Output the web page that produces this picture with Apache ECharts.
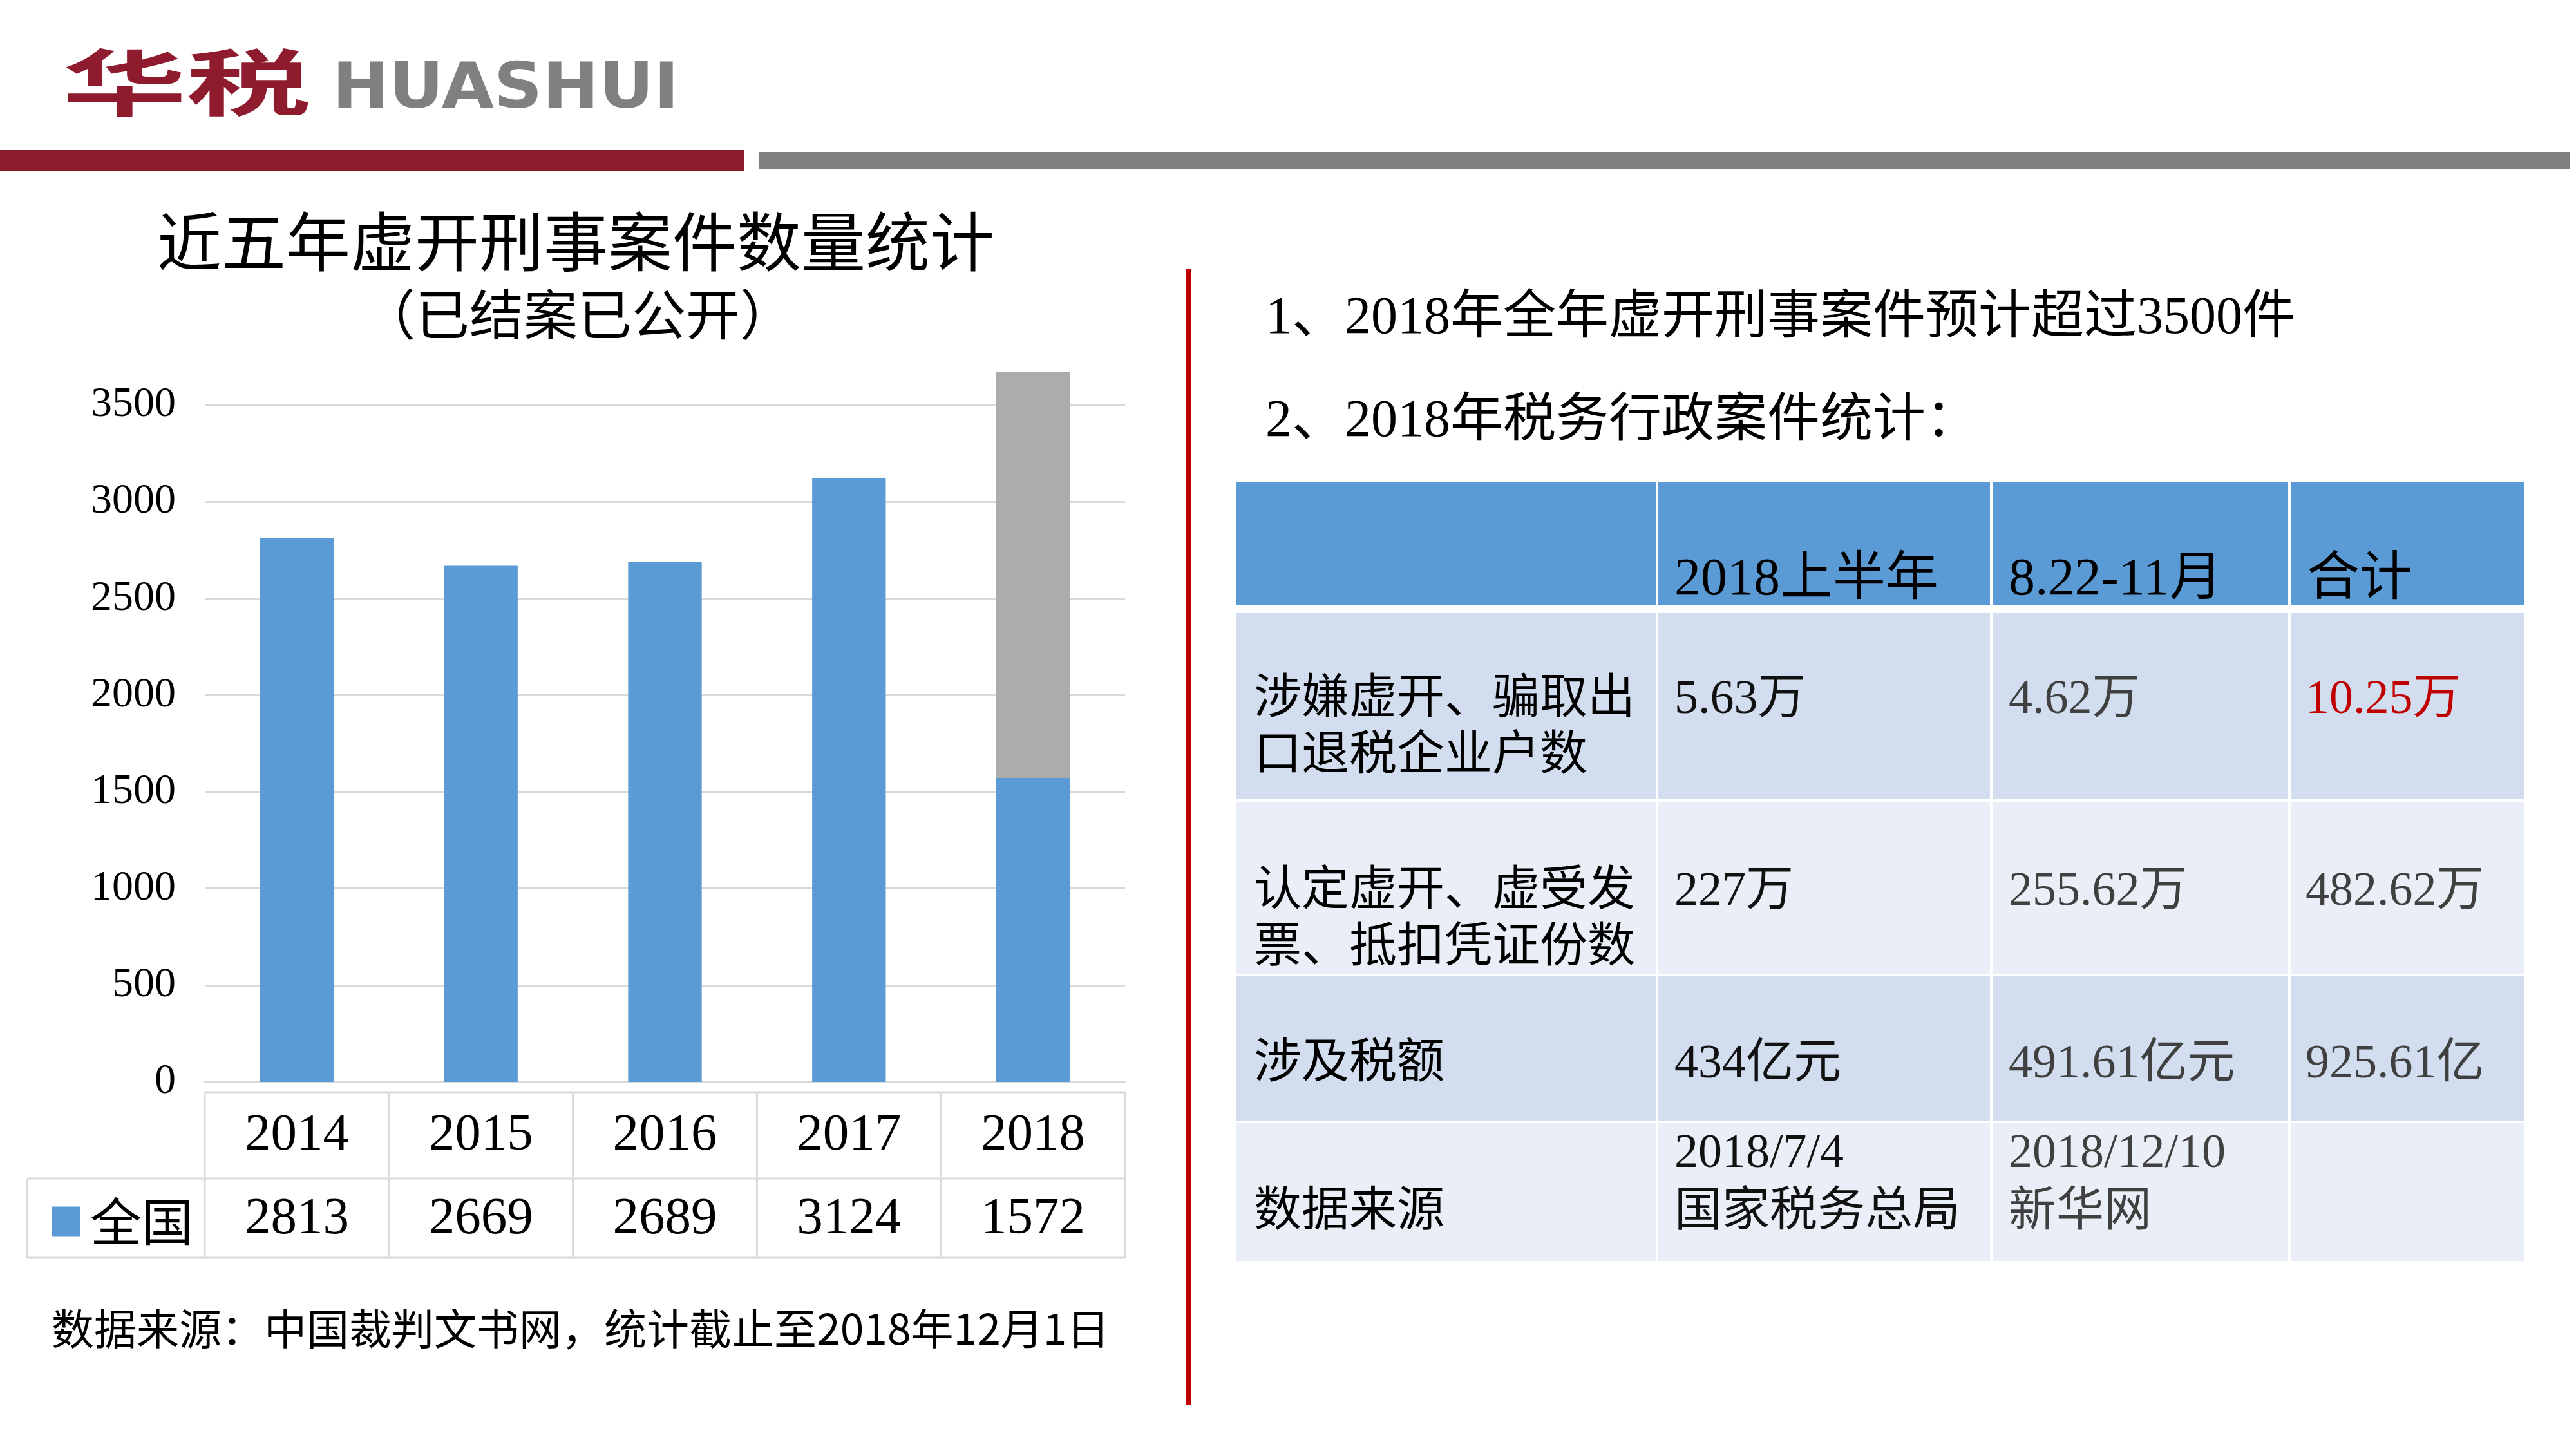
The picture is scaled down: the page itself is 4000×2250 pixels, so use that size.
<!DOCTYPE html>
<html>
<head>
<meta charset="utf-8">
<script src="https://cdn.jsdelivr.net/npm/echarts@6/dist/echarts.min.js"></script>
<style>
html,body{margin:0;padding:0;background:#fff;}
#c{width:4000px;height:2250px;}
</style>
</head>
<body>
<div id="c"></div>
<script>
// ---------- data ----------
const years = ['2014', '2015', '2016', '2017', '2018'];
const nationwide = [2813, 2669, 2689, 3124, 1572];
const projectedExtra = [null, null, null, null, 2100]; // grey part of 2018 (estimated)
const seriesName = '全国';
const yTicks = { min: 0, max: 3500, step: 500 };

const chartTitle = '近五年虚开刑事案件数量统计';
const chartSubtitle = '（已结案已公开）';
const footerNote = '数据来源：中国裁判文书网，统计截止至2018年12月1日';
const noteLines = ['1、2018年全年虚开刑事案件预计超过3500件', '2、2018年税务行政案件统计：'];

const tblHeader = ['', '2018上半年', '8.22-11月', '合计'];
const tblRowLabels = ['涉嫌虚开、骗取出\n口退税企业户数', '认定虚开、虚受发\n票、抵扣凭证份数', '涉及税额', '数据来源'];
const tblFirstHalf = ['5.63万', '227万', '434亿元', '2018/7/4\n国家税务总局'];
const tblAugNov = ['4.62万', '255.62万', '491.61亿元', '2018/12/10\n新华网'];
const tblTotal = ['10.25万', '482.62万', '925.61亿', ''];

// ---------- style ----------
const FONT = "'Liberation Serif','Noto Sans CJK SC',serif";
const SANS = "'Noto Sans CJK SC','Noto Sans',sans-serif";
const BLUE = '#5B9BD5';
const GREY = '#AEABAB';
const GRID = '#D9D9D9';
const DY = 6; // vertical nudge for text rendering

const chart = echarts.init(document.getElementById('c'), null, { renderer: 'canvas', width: 4000, height: 2250 });

function txt(text, x, y, size, opts) {
  opts = opts || {};
  return {
    type: 'text', x: x, y: y + (opts.noNudge ? 0 : DY), z: 10,
    scaleX: opts.scaleX || 1,
    style: {
      text: text,
      fontSize: size,
      fontFamily: opts.family || FONT,
      fontWeight: opts.weight || 'normal',
      fill: opts.color || '#000',
      textAlign: opts.align || 'left', align: opts.align || 'left',
      textVerticalAlign: 'middle', verticalAlign: 'middle',
      lineHeight: opts.lineHeight || size
    }
  };
}
function rect(x, y, w, h, color, z) {
  return { type: 'rect', z: z || 1, shape: { x: x, y: y, width: w, height: h }, style: { fill: color } };
}
function line(x1, y1, x2, y2, color, w) {
  return { type: 'line', z: 2, shape: { x1: x1, y1: y1, x2: x2, y2: y2 }, style: { stroke: color, lineWidth: w } };
}

const option = {
  backgroundColor: '#fff',
  animation: false,
  grid: { left: 318, right: 4000 - 1747, top: 629, bottom: 2250 - 1680, containLabel: false },
  legend: {
    data: [seriesName], left: 75, top: 1852, icon: 'rect', itemWidth: 45, itemHeight: 47,
    textStyle: { fontSize: 80, fontFamily: SANS, color: '#000', padding: [0, 0, 0, 10] }
  },
  xAxis: [{
    type: 'category', data: years, gridIndex: 0,
    axisLine: { show: true, lineStyle: { color: GRID, width: 3 } },
    axisTick: { show: false },
    axisLabel: { margin: 43, fontSize: 81, fontFamily: FONT, color: '#000', lineHeight: 81 }
  }, {
    type: 'category', data: years, gridIndex: 0, position: 'bottom', offset: 130,
    axisLine: { show: false }, axisTick: { show: false },
    axisLabel: { margin: 43, fontSize: 81, fontFamily: FONT, color: '#000', lineHeight: 81,
      formatter: function (v, i) { return String(nationwide[i]); } }
  }],
  yAxis: {
    type: 'value', min: yTicks.min, max: yTicks.max, interval: yTicks.step,
    axisLine: { show: false }, axisTick: { show: false },
    axisLabel: { margin: 45, fontSize: 66, fontFamily: FONT, color: '#000',
      formatter: function (v) { return String(v); } },
    splitLine: { lineStyle: { color: GRID, width: 3 } }
  },
  series: [{
    name: seriesName, type: 'bar', stack: 'total', data: nationwide, barWidth: '40%',
    itemStyle: { color: BLUE }, clip: false
  }, {
    name: '预计', type: 'bar', stack: 'total', data: projectedExtra, barWidth: '40%',
    itemStyle: { color: GREY }, clip: false
  }]
};
chart.setOption(option);

// ---------- graphic decorations ----------
const g = [];
// header logo and bars
g.push(txt('华税', 97, 128, 112, { family: SANS, weight: 'bold', color: '#8E1B2E', scaleX: 1.72, noNudge: true }));
g.push(txt('HUASHUI', 516, 142, 98, { family: "'DejaVu Sans',sans-serif", weight: 'bold', color: '#808080', scaleX: 1.07, noNudge: true }));
g.push(rect(0, 233, 1155, 32, '#8B1C2C'));
g.push(rect(1178, 236, 2812, 27, '#7F7F7F'));

// chart titles
g.push(txt(chartTitle, 894, 381, 100, { align: 'center' }));
g.push(txt(chartSubtitle, 897, 492, 84, { align: 'center' }));
g.push(txt(footerNote, 80, 2057, 66, { family: SANS }));

// data table under chart (lines from axis geometry)
const centers = years.map(function (y) { return chart.convertToPixel({ xAxisIndex: 0 }, y); });
const band = centers[1] - centers[0];
const edges = centers.map(function (c) { return c - band / 2; });
edges.push(centers[centers.length - 1] + band / 2);
const tTop = 1696, tMid = 1830, tBot = 1953, tLeft = 42;
g.push(line(edges[0], tTop, edges[edges.length - 1], tTop, GRID, 3));
g.push(line(tLeft, tMid, edges[edges.length - 1], tMid, GRID, 3));
g.push(line(tLeft, tBot, edges[edges.length - 1], tBot, GRID, 3));
g.push(line(tLeft, tMid, tLeft, tBot, GRID, 3));
edges.forEach(function (x) { g.push(line(x, tTop, x, tBot, GRID, 3)); });

// red divider
g.push(rect(1842, 418, 7, 1764, '#C00000'));

// notes
g.push(txt(noteLines[0], 1965, 489, 82));
g.push(txt(noteLines[1], 1965, 649, 82));

// right table
const colEdges = [1920, 2573, 3092, 3555, 3919];
const headerY = [748, 939];
const rowsY = [[952, 1241], [1246, 1513], [1516, 1740], [1744, 1958]];
const rowFill = ['#D2DEEF', '#EAEFF7', '#D2DEEF', '#EAEFF7'];
for (let c = 0; c < 4; c++) {
  const x0 = colEdges[c] + (c === 0 ? 0 : 2);
  const x1 = colEdges[c + 1] - (c === 3 ? 0 : 2);
  g.push(rect(x0, headerY[0], x1 - x0, headerY[1] - headerY[0], BLUE));
  rowsY.forEach(function (r, i) { g.push(rect(x0, r[0], x1 - x0, r[1] - r[0], rowFill[i])); });
  if (tblHeader[c]) g.push(txt(tblHeader[c], colEdges[c] + 27, 895, 82));
}
const labelY = [1126, 1424, 1648, 1878];
const valueY = [1082, 1380, 1648, 1832];
tblRowLabels.forEach(function (t, i) { g.push(txt(t, 1947, labelY[i], 74, { lineHeight: 88 })); });
tblFirstHalf.forEach(function (t, i) { g.push(txt(t, colEdges[1] + 27, valueY[i], 74, { lineHeight: 91, color: '#111' })); });
tblAugNov.forEach(function (t, i) { g.push(txt(t, colEdges[2] + 27, valueY[i], 74, { lineHeight: 91, color: '#404040' })); });
tblTotal.forEach(function (t, i) { if (t) g.push(txt(t, colEdges[3] + 25, valueY[i], 74, { color: i === 0 ? '#C00000' : '#404040' })); });

chart.setOption({ graphic: { elements: g } });
</script>
</body>
</html>
